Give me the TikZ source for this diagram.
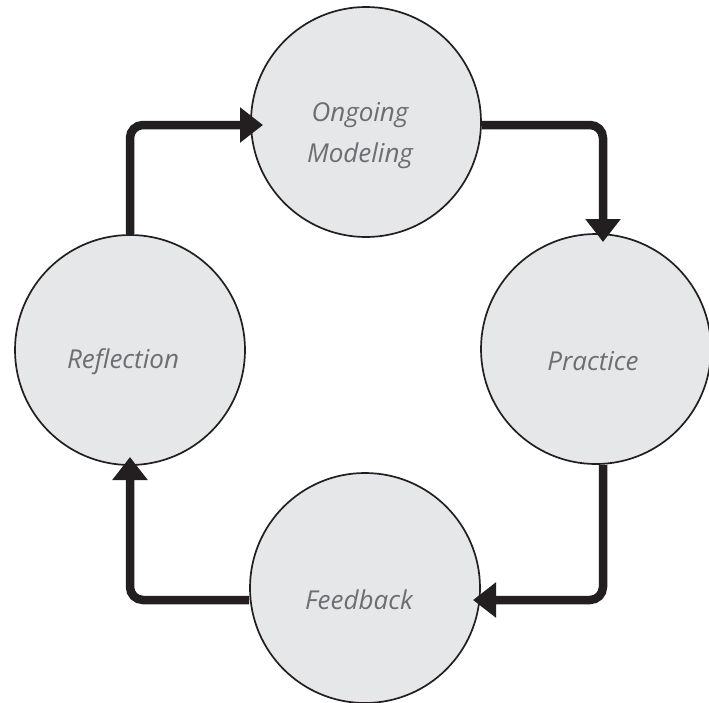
\documentclass[tikz,border=0pt]{standalone}
\usepackage{fontspec}
\setmainfont{Open Sans}
\usetikzlibrary{arrows.meta}
\definecolor{circfill}{HTML}{E6E7E8}
\definecolor{inkdark}{HTML}{231F20}
\definecolor{txtgray}{HTML}{6D6E71}
\tikzset{
  stage/.style={circle, draw=inkdark, line width=1.7pt, fill=circfill, minimum size=230pt, inner sep=0pt},
  stagetext/.style={text=txtgray, font=\itshape\fontsize{26}{41}\selectfont, align=center, inner sep=0pt},
  flow/.style={draw=inkdark, line width=8.5pt, rounded corners=13pt, -{Triangle[length=23pt,width=34pt]}},
}
\begin{document}
\begin{tikzpicture}[x=1pt,y=-1pt]
\useasboundingbox (0,0) rectangle (709,702);
\fill[white] (0,0) rectangle (709,702);
\begin{scope}
\clip (0,0) rectangle (709,702);
\node[stage] (T) at (366,122) {};
\node[stage] (L) at (130,350) {};
\node[stage] (R) at (596,349) {};
\node[stage] (B) at (365,588) {};
\end{scope}
\node[stagetext] (Tt) at ([yshift=-14pt,xshift=-6pt]T) {Ongoing\\Modeling};
\node[stagetext] (Lt) at ([yshift=-12pt,xshift=-7pt]L) {Reflection};
\node[stagetext] (Rt) at ([yshift=-12pt,xshift=-3pt]R) {Practice};
\node[stagetext] (Bt) at ([yshift=-12pt,xshift=-6pt]B) {Feedback};
\coordinate (a1) at (263,125);
\coordinate (a2) at (603,242);
\coordinate (a3) at (473,600);
\coordinate (a4) at (130,457);
\draw[flow] (L.north) |- (a1);
\draw[flow] ([yshift=-3pt]T.east) -| (a2);
\draw[flow] ([xshift=7pt]R.south) |- (a3);
\draw[flow] ([yshift=-12pt]B.west) -| (a4);
\end{tikzpicture}
\end{document}
